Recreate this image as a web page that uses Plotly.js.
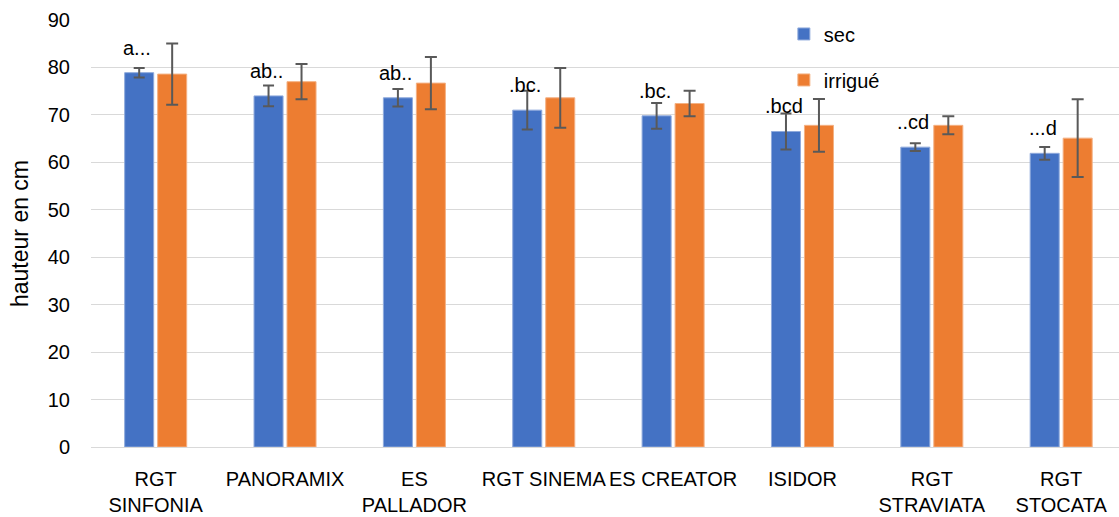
<!DOCTYPE html>
<html>
<head>
<meta charset="utf-8">
<script src="https://cdn.plot.ly/plotly-3.0.1.min.js"></script>
<style>html,body{margin:0;padding:0;background:#fff;overflow:hidden;}</style>
</head>
<body>
<div id="chart" style="width:1119px;height:517px;"></div>
<script>
// Data
var categories = ["RGT<br>SINFONIA", "PANORAMIX", "ES<br>PALLADOR", "RGT SINEMA", "ES CREATOR", "ISIDOR", "RGT<br>STRAVIATA", "RGT<br>STOCATA"];
var secValues = [78.9, 74.0, 73.6, 71.0, 69.8, 66.5, 63.2, 61.9];
var secErrors = [1.0, 2.2, 1.85, 4.1, 2.7, 3.8, 0.8, 1.35];
var irrigueValues = [78.6, 77.0, 76.7, 73.6, 72.4, 67.8, 67.8, 65.1];
var irrigueErrors = [6.45, 3.7, 5.5, 6.3, 2.7, 5.55, 1.9, 8.2];
var groupLabels = ["a...", "ab..", "ab..", ".bc.", ".bc.", ".bcd", "..cd", "...d"];

var FONT = "Liberation Sans, Arial, sans-serif";

var traces = [
  {
    type: "bar", name: "sec", x: categories, y: secValues,
    marker: {color: "#4472C4", line: {color: "#8FAADC", width: 1}},
    error_y: {type: "data", array: secErrors, visible: true, color: "#595959", thickness: 2, width: 5.5},
    legendgroup: "a"
  },
  {
    type: "bar", name: "irrigué", x: categories, y: irrigueValues,
    marker: {color: "#ED7D31", line: {color: "#F4B183", width: 1}},
    error_y: {type: "data", array: irrigueErrors, visible: true, color: "#595959", thickness: 2, width: 6},
    legendgroup: "b"
  }
];

var annotations = categories.map(function(c, i) {
  return {
    x: c, y: secValues[i], xref: "x", yref: "y",
    text: groupLabels[i], showarrow: false,
    xshift: -18.5, yshift: 25,
    font: {family: FONT, size: 20, color: "#000"}
  };
});

var layout = {
  width: 1119, height: 517,
  margin: {l: 91.4, r: 0, t: 20, b: 70, pad: 0},
  paper_bgcolor: "#fff", plot_bgcolor: "#fff",
  font: {family: FONT, size: 20, color: "#000"},
  barmode: "group", bargap: 0.49, bargroupgap: 0.12,
  showlegend: true,
  legend: {
    x: 0.674, y: 1.013, xanchor: "left", yanchor: "top",
    bgcolor: "rgba(0,0,0,0)", font: {family: FONT, size: 20, color: "#000"},
    traceorder: "grouped", tracegroupgap: 17
  },
  xaxis: {
    type: "category", range: [-0.5, 7.447],
    showgrid: false, showline: false, ticks: "",
    tickfont: {family: FONT, size: 20, color: "#000"},
    ticklabelstandoff: 18, automargin: false
  },
  yaxis: {
    range: [0, 90], dtick: 10, tick0: 0,
    showgrid: true, gridcolor: "#D9D9D9", gridwidth: 1,
    zeroline: true, zerolinecolor: "#D9D9D9", zerolinewidth: 1,
    showline: false, ticks: "",
    tickfont: {family: FONT, size: 20, color: "#000"},
    ticklabelstandoff: 20,
    title: {text: "hauteur en cm", font: {family: FONT, size: 23, color: "#000"}, standoff: 12},
    automargin: false
  },
  annotations: annotations
};

Plotly.newPlot("chart", traces, layout, {displayModeBar: false, staticPlot: true});
</script>
</body>
</html>
